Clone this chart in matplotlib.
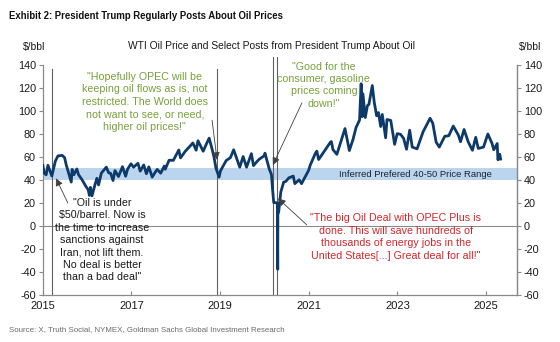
import matplotlib
matplotlib.use("Agg")
import matplotlib.pyplot as plt
import pandas as pd

plt.rcParams['font.family'] = ['Liberation Sans', 'DejaVu Sans']

# WTI front-month price, $/bbl, at swing points
price_dates = [
    "2015-01-02", "2015-01-13", "2015-01-29", "2015-02-13", "2015-03-17", "2015-04-15",
    "2015-05-06", "2015-06-10", "2015-06-30", "2015-07-14", "2015-08-24", "2015-08-31",
    "2015-09-15", "2015-10-09", "2015-10-23", "2015-11-20", "2015-12-21",
    "2016-01-11", "2016-01-20", "2016-01-29", "2016-02-11", "2016-03-08", "2016-03-22",
    "2016-04-05", "2016-04-28", "2016-06-08", "2016-06-27", "2016-07-14", "2016-08-02",
    "2016-08-18", "2016-09-16", "2016-10-19", "2016-11-14", "2016-11-30", "2016-12-28",
    "2017-01-18", "2017-02-23", "2017-03-14", "2017-04-12", "2017-05-04", "2017-05-24",
    "2017-06-21", "2017-07-14", "2017-08-01", "2017-08-30", "2017-09-28", "2017-10-06",
    "2017-11-07", "2017-12-12",
    "2018-01-26", "2018-02-09", "2018-03-22", "2018-04-19", "2018-05-22", "2018-06-18",
    "2018-07-03", "2018-08-15", "2018-09-04", "2018-10-03", "2018-10-31", "2018-11-12",
    "2018-11-28", "2018-12-24",
    "2019-01-04", "2019-02-21", "2019-03-27", "2019-04-23", "2019-06-12", "2019-07-10",
    "2019-08-07", "2019-09-16", "2019-10-03", "2019-11-15", "2019-12-31",
    "2020-01-06", "2020-02-10", "2020-02-28", "2020-03-09", "2020-03-18", "2020-04-01",
    "2020-04-14", "2020-04-17", "2020-04-20", "2020-04-21", "2020-04-28", "2020-05-15",
    "2020-06-08", "2020-06-25", "2020-07-21", "2020-08-26", "2020-09-08", "2020-10-13",
    "2020-11-02", "2020-12-31",
    "2021-01-13", "2021-02-24", "2021-03-08", "2021-03-23", "2021-05-17", "2021-06-29",
    "2021-07-06", "2021-07-19", "2021-08-20", "2021-09-28", "2021-10-26", "2021-11-26",
    "2021-12-01", "2021-12-31",
    "2022-01-25", "2022-02-23", "2022-03-08", "2022-03-16", "2022-03-23", "2022-04-11",
    "2022-04-29", "2022-05-11", "2022-06-08", "2022-06-24", "2022-07-14", "2022-07-29",
    "2022-08-16", "2022-08-29", "2022-09-26", "2022-10-07", "2022-11-07", "2022-12-09",
    "2022-12-30",
    "2023-01-27", "2023-02-21", "2023-03-17", "2023-04-12", "2023-05-03", "2023-06-12",
    "2023-07-31", "2023-09-27", "2023-10-19", "2023-11-16", "2023-12-12",
    "2024-01-26", "2024-02-28", "2024-04-05", "2024-05-16", "2024-06-04", "2024-07-03",
    "2024-08-06", "2024-09-10", "2024-10-07", "2024-10-28", "2024-12-10",
    "2025-01-15", "2025-02-18", "2025-03-05", "2025-04-02", "2025-04-08", "2025-04-23",
    "2025-04-30",
]
wti_price = [
    52.7, 46.0, 44.5, 52.8, 43.5, 56.4,
    60.9, 61.4, 59.5, 53.0, 38.2, 49.2,
    44.6, 49.6, 44.6, 40.4, 34.7,
    31.4, 26.6, 33.6, 26.2, 36.5, 41.5,
    35.7, 46.0, 51.2, 46.3, 45.7, 39.5,
    48.2, 43.0, 51.6, 43.3, 49.4, 54.1,
    51.1, 54.5, 47.7, 53.1, 45.5, 51.4,
    42.5, 46.5, 49.2, 45.9, 52.1, 49.3,
    57.2, 57.1,
    66.1, 59.2, 65.2, 68.3, 72.2, 65.9,
    74.1, 65.0, 69.9, 76.4, 65.3, 59.9,
    50.3, 42.5,
    47.9, 57.0, 59.4, 66.3, 51.1, 60.4,
    51.1, 62.9, 52.5, 57.7, 61.1,
    63.3, 49.6, 44.8, 31.1, 20.4, 20.3,
    20.1, 18.3, -37.6, 10.0, 12.3, 29.4,
    38.2, 38.7, 41.9, 43.4, 36.8, 40.2,
    36.8, 48.5,
    53.0, 63.2, 65.1, 57.8, 66.3, 73.0,
    73.4, 66.4, 62.3, 75.3, 84.7, 68.2,
    65.6, 75.2,
    85.6, 92.1, 123.7, 95.0, 114.9, 94.3,
    104.7, 105.7, 122.1, 107.6, 95.8, 98.6,
    86.5, 97.0, 76.7, 92.6, 91.8, 71.0,
    80.3,
    79.7, 76.2, 66.7, 83.3, 68.6, 67.1,
    81.8, 93.7, 89.4, 72.9, 68.6,
    78.0, 78.5, 86.9, 79.2, 73.3, 83.9,
    73.2, 65.8, 77.1, 67.4, 68.6,
    80.0, 71.9, 66.3, 71.7, 57.6, 62.3,
    58.2,
]

band_low, band_high = 40, 50
band_label = "Inferred Prefered 40-50 Price Range"

year_ticks = [2015, 2017, 2019, 2021, 2023, 2025]
y_ticks = [-60, -40, -20, 0, 20, 40, 60, 80, 100, 120, 140]

# Post dates and quoted text
post_dates = ["2015-03-20", "2018-12-05", "2020-03-09", "2020-04-12"]
post_texts = [
    "\"Oil is under\n$50/barrel. Now is\nthe time to increase\nsanctions against\n"
    "Iran, not lift them.\nNo deal is better\nthan a bad deal\"",
    "\"Hopefully OPEC will be\nkeeping oil flows as is, not\nrestricted. The World does\n"
    "not want to see, or need,\nhigher oil prices!\"",
    "\"Good for the\nconsumer, gasoline\nprices coming\ndown!\"",
    "\"The big Oil Deal with OPEC Plus is\ndone. This will save hundreds of\n"
    "thousands of energy jobs in the\nUnited States[...] Great deal for all!\"",
]
post_colors = ["#1a1a1a", "#77a03a", "#77a03a", "#d3262b"]
post_text_pos = [("2016-05-04", 24.5), ("2017-04-20", 108), ("2021-05-05", 122.5), ("2022-12-20", -9.5)]
post_text_va = ["top", "center", "center", "center"]
post_line_top = [136.5, 136.5, 147, 147]
# Arrow heads on the price line, and tails next to each quote
arrow_heads = [("2015-04-20", 41.5), ("2018-12-07", 57.5), ("2020-03-11", 53), ("2020-04-22", 24)]
arrow_tails = [("2015-07-27", 20), ("2018-10-27", 92), ("2020-11-05", 107), ("2020-12-15", 1)]

dates = pd.to_datetime(price_dates)
line_color = "#0d3a68"
spine_color = "#8a8a8a"

fig = plt.figure(figsize=(5.6, 3.42), dpi=100)
ax = fig.add_axes([0.0763, 0.1374, 0.8469, 0.6726])

ax.set_xlim(pd.Timestamp("2015-01-01"), pd.Timestamp("2025-09-12"))
ax.set_ylim(-60, 140)

ax.axhspan(band_low, band_high, color="#bcd5ee", lw=0, zorder=1)
ax.axhline(0, color="#8a8a8a", lw=0.8, zorder=1)

for d, top in zip(post_dates, post_line_top):
    ax.plot([pd.Timestamp(d)] * 2, [-60, top], color="#606060", lw=0.8,
            zorder=2, clip_on=False)

ax.plot(dates, wti_price, color=line_color, lw=2.0, zorder=3)

ax.text(pd.Timestamp("2025-02-20"), (band_low + band_high) / 2, band_label,
        ha="right", va="center", fontsize=6.8, color="#1c2430", zorder=4)

for txt, col, (tx, ty), va in zip(post_texts, post_colors, post_text_pos, post_text_va):
    ax.text(pd.Timestamp(tx), ty, txt, ha="center", va=va, fontsize=7.7,
            color=col, linespacing=1.3, zorder=5)

arrow_kw = dict(arrowstyle="-|>,head_length=0.45,head_width=0.22", color="#404040",
                lw=0.6, shrinkA=0, shrinkB=0)
for (hx, hy), (tx, ty) in zip(arrow_heads, arrow_tails):
    ax.annotate("", xy=(pd.Timestamp(hx), hy), xytext=(pd.Timestamp(tx), ty),
                arrowprops=arrow_kw, zorder=6)

ax.set_xticks([pd.Timestamp(f"{y}-01-01") for y in year_ticks])
ax.set_xticklabels([str(y) for y in year_ticks])
ax.set_yticks(y_ticks)
ax.set_yticklabels([str(v) for v in y_ticks])

ax.spines["top"].set_visible(False)
for s in ["left", "right", "bottom"]:
    ax.spines[s].set_color(spine_color)
    ax.spines[s].set_linewidth(0.9)
ax.tick_params(axis="x", direction="in", length=3, color=spine_color,
               labelsize=8, pad=4, labelcolor="#1a1a1a")
ax.tick_params(axis="y", direction="out", length=3, color=spine_color,
               labelsize=7.8, pad=2, labelcolor="#1a1a1a")

axr = ax.twinx()
axr.set_ylim(-60, 140)
axr.set_yticks(y_ticks)
axr.set_yticklabels([str(v) for v in y_ticks])
for s in ["top", "left", "bottom"]:
    axr.spines[s].set_visible(False)
axr.spines["right"].set_color(spine_color)
axr.spines["right"].set_linewidth(0.9)
axr.tick_params(axis="y", direction="out", length=3, color=spine_color,
                labelsize=7.8, pad=2, labelcolor="#1a1a1a")

fig.text(0.016, 0.953, "Exhibit 2: President Trump Regularly Posts About Oil Prices",
         fontsize=6.9, fontweight="bold", color="#111111", va="center")
fig.text(0.484, 0.865, "WTI Oil Price and Select Posts from President Trump About Oil",
         fontsize=7.4, color="#1a1a1a", ha="center", va="center")
fig.text(0.061, 0.862, "$/bbl", fontsize=7.4, color="#1a1a1a", ha="center", va="center")
fig.text(0.946, 0.862, "$/bbl", fontsize=7.4, color="#1a1a1a", ha="center", va="center")
fig.text(0.016, 0.036,
         "Source: X, Truth Social, NYMEX, Goldman Sachs Global Investment Research",
         fontsize=5.7, color="#6a6a6a", va="center")

fig.savefig("out.png", dpi=100)
